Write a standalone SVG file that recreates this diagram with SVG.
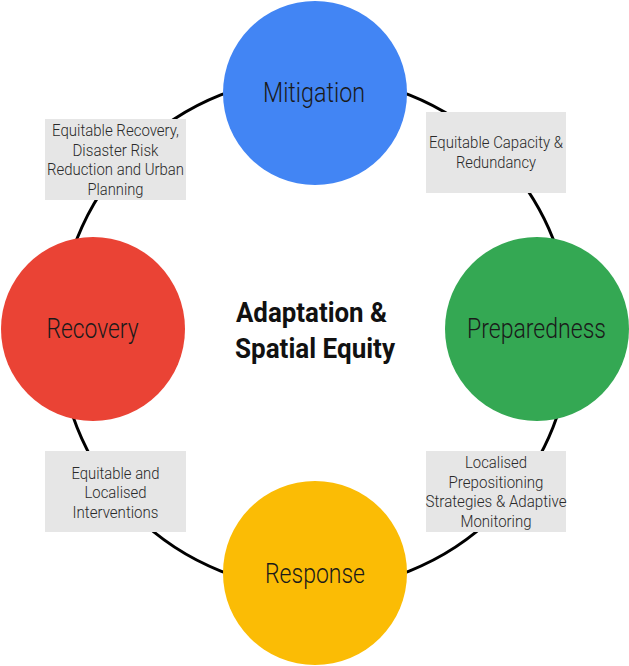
<svg xmlns="http://www.w3.org/2000/svg" width="629" height="666" viewBox="0 0 629 666">
<style>
.lbl{font-family:Roboto,"Liberation Sans",sans-serif;font-weight:300;font-size:27px;fill:#1a1a1a;text-anchor:middle}
.box{fill:#e6e6e6}
.bt{font-family:Roboto,"Liberation Sans",sans-serif;font-weight:300;font-size:17px;fill:#2a2a2a;text-anchor:middle}
.title{font-family:Roboto,"Liberation Sans",sans-serif;font-weight:700;font-size:28px;fill:#111;text-anchor:middle}
</style>
<rect width="629" height="666" fill="#ffffff"/>
<g id="connectors">
<circle cx="315" cy="333" r="256" fill="none" stroke="#000" stroke-width="3"/>
</g>
<g id="box-recovery-mitigation">
<rect class="box" x="45" y="119" width="141" height="81"/>
<text class="bt" x="115.5" y="136" textLength="127" lengthAdjust="spacingAndGlyphs">Equitable Recovery,</text>
<text class="bt" x="115.5" y="155.5" textLength="86" lengthAdjust="spacingAndGlyphs">Disaster Risk</text>
<text class="bt" x="115.5" y="175" textLength="137" lengthAdjust="spacingAndGlyphs">Reduction and Urban</text>
<text class="bt" x="115.5" y="194.5" textLength="56" lengthAdjust="spacingAndGlyphs">Planning</text>
</g>
<g id="box-mitigation-preparedness">
<rect class="box" x="426" y="112" width="140" height="81"/>
<text class="bt" x="496" y="148" textLength="134" lengthAdjust="spacingAndGlyphs">Equitable Capacity &amp;</text>
<text class="bt" x="496" y="167.5" textLength="80" lengthAdjust="spacingAndGlyphs">Redundancy</text>
</g>
<g id="box-response-recovery">
<rect class="box" x="45" y="451" width="141" height="81"/>
<text class="bt" x="115.5" y="478.5" textLength="88" lengthAdjust="spacingAndGlyphs">Equitable and</text>
<text class="bt" x="115.5" y="498" textLength="62" lengthAdjust="spacingAndGlyphs">Localised</text>
<text class="bt" x="115.5" y="517.5" textLength="86" lengthAdjust="spacingAndGlyphs">Interventions</text>
</g>
<g id="box-preparedness-response">
<rect class="box" x="426" y="451" width="140" height="81"/>
<text class="bt" x="496" y="468" textLength="62" lengthAdjust="spacingAndGlyphs">Localised</text>
<text class="bt" x="496" y="487.5" textLength="95" lengthAdjust="spacingAndGlyphs">Prepositioning</text>
<text class="bt" x="496" y="507" textLength="141" lengthAdjust="spacingAndGlyphs">Strategies &amp; Adaptive</text>
<text class="bt" x="496" y="526.5" textLength="71" lengthAdjust="spacingAndGlyphs">Monitoring</text>
</g>
<g id="mitigation">
<circle cx="315" cy="93" r="92" fill="#4285F4"/>
<text class="lbl" x="314" y="102" textLength="102" lengthAdjust="spacingAndGlyphs">Mitigation</text>
</g>
<g id="preparedness">
<circle cx="537" cy="329" r="92" fill="#34A853"/>
<text class="lbl" x="536.5" y="338" textLength="139" lengthAdjust="spacingAndGlyphs">Preparedness</text>
</g>
<g id="response">
<circle cx="315" cy="573" r="92" fill="#FBBC05"/>
<text class="lbl" x="315" y="583" textLength="100" lengthAdjust="spacingAndGlyphs">Response</text>
</g>
<g id="recovery">
<circle cx="93" cy="329" r="92" fill="#EA4335"/>
<text class="lbl" x="92.5" y="338" textLength="92" lengthAdjust="spacingAndGlyphs">Recovery</text>
</g>
<g id="center-title">
<text class="title" x="311.5" y="321.5" textLength="151" lengthAdjust="spacingAndGlyphs">Adaptation &amp;</text>
<text class="title" x="315" y="358" textLength="160" lengthAdjust="spacingAndGlyphs">Spatial Equity</text>
</g>
</svg>
